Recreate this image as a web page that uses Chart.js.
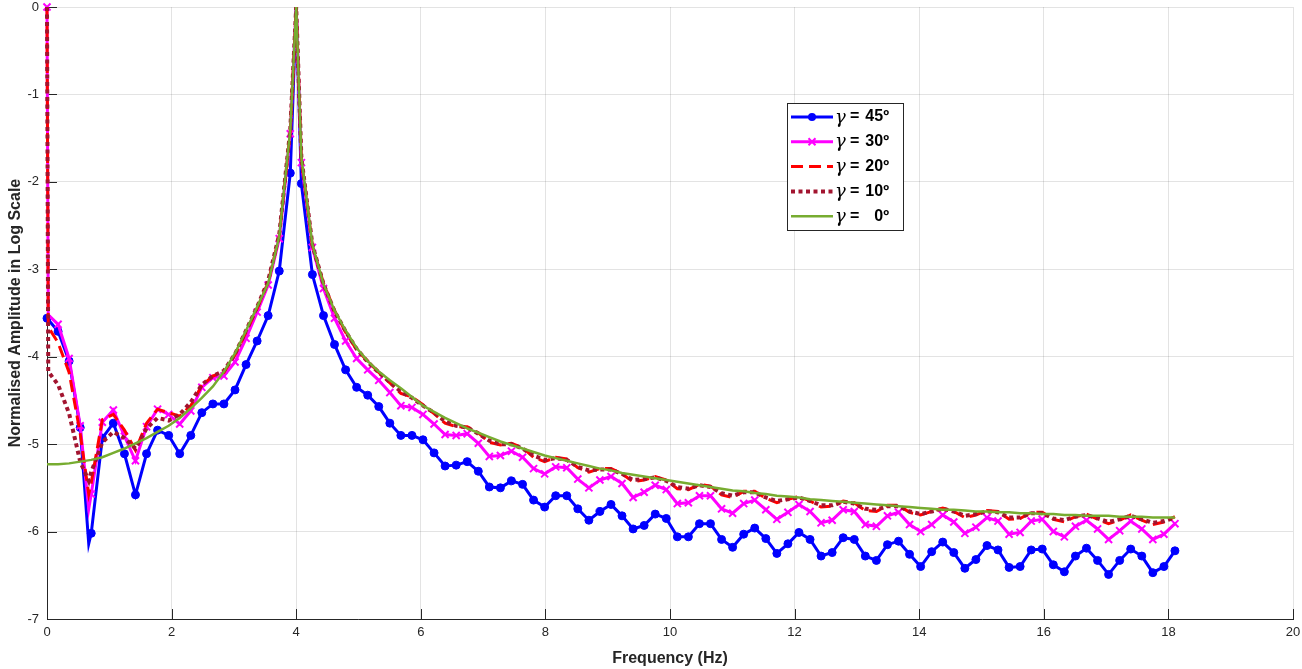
<!DOCTYPE html>
<html>
<head>
<meta charset="utf-8">
<title>Normalised Amplitude vs Frequency</title>
<script src="https://cdn.jsdelivr.net/npm/chart.js@4/dist/chart.umd.min.js"></script>
<style>
  html, body { margin: 0; padding: 0; background: #fff; }
  canvas { display: block; }
</style>
</head>
<body>
<canvas id="chart" width="1302" height="669"></canvas>
<script>
// --- data ---
// frequency grid (Hz) where the markers sit
const freq = [
  0, 0.178, 0.355, 0.533, 0.710, 0.888, 1.065, 1.243, 1.420, 1.598,
  1.775, 1.953, 2.130, 2.308, 2.485, 2.663, 2.840, 3.018, 3.195, 3.373,
  3.550, 3.728, 3.905, 4.083, 4.260, 4.438, 4.615, 4.793, 4.970, 5.148,
  5.325, 5.503, 5.680, 5.858, 6.035, 6.213, 6.390, 6.568, 6.745, 6.923,
  7.100, 7.278, 7.455, 7.633, 7.810, 7.988, 8.165, 8.343, 8.520, 8.698,
  8.875, 9.053, 9.230, 9.408, 9.585, 9.763, 9.940, 10.118, 10.295, 10.473,
  10.650, 10.828, 11.005, 11.183, 11.360, 11.538, 11.715, 11.893, 12.070, 12.248,
  12.425, 12.603, 12.780, 12.958, 13.135, 13.313, 13.490, 13.668, 13.845, 14.023,
  14.200, 14.378, 14.555, 14.733, 14.910, 15.088, 15.265, 15.443, 15.620, 15.798,
  15.975, 16.153, 16.330, 16.508, 16.685, 16.863, 17.040, 17.218, 17.395, 17.573,
  17.750, 17.928, 18.105
];
// extra line points between markers (steep drop at 0, dip, resonance peak)
const extraFreq = [0.02, 0.67, 4.0];

const gammaLabels = ['45', '30', '20', '10', '0'];

const amp45 = [
  -3.56, -3.71, -4.05, -4.81, -6.02, -4.93, -4.76, -5.11, -5.58, -5.11,
  -4.84, -4.90, -5.11, -4.90, -4.64, -4.54, -4.54, -4.38, -4.09, -3.82,
  -3.53, -3.02, -1.90, -2.02, -3.06, -3.53, -3.86, -4.15, -4.35, -4.44,
  -4.57, -4.76, -4.90, -4.90, -4.95, -5.10, -5.25, -5.24, -5.20, -5.31,
  -5.49, -5.50, -5.42, -5.46, -5.64, -5.72, -5.59, -5.59, -5.74, -5.87,
  -5.77, -5.69, -5.82, -5.97, -5.93, -5.80, -5.85, -6.06, -6.06, -5.91,
  -5.91, -6.09, -6.18, -6.03, -5.96, -6.08, -6.25, -6.14, -6.01, -6.09,
  -6.28, -6.24, -6.07, -6.09, -6.28, -6.33, -6.15, -6.11, -6.26, -6.40,
  -6.23, -6.12, -6.24, -6.42, -6.32, -6.16, -6.21, -6.41, -6.40, -6.21,
  -6.20, -6.38, -6.46, -6.28, -6.19, -6.33, -6.49, -6.33, -6.20, -6.28,
  -6.47, -6.40, -6.22
];
const amp45Extra = [null, -6.14, 0];

const amp30 = [
  0, -3.63, -4.02, -4.79, -5.57, -4.75, -4.61, -4.91, -5.19, -4.80,
  -4.60, -4.66, -4.77, -4.62, -4.35, -4.24, -4.22, -4.06, -3.79, -3.49,
  -3.18, -2.65, -1.45, -1.78, -2.75, -3.22, -3.56, -3.82, -4.02, -4.15,
  -4.27, -4.41, -4.56, -4.58, -4.66, -4.77, -4.89, -4.90, -4.88, -4.99,
  -5.14, -5.13, -5.08, -5.15, -5.28, -5.34, -5.26, -5.27, -5.40, -5.50,
  -5.41, -5.37, -5.45, -5.61, -5.55, -5.47, -5.52, -5.68, -5.67, -5.59,
  -5.59, -5.74, -5.79, -5.68, -5.64, -5.75, -5.86, -5.78, -5.69, -5.77,
  -5.90, -5.87, -5.75, -5.77, -5.92, -5.94, -5.82, -5.78, -5.92, -6.00,
  -5.92, -5.81, -5.89, -6.02, -5.95, -5.84, -5.88, -6.03, -6.01, -5.88,
  -5.86, -6.00, -6.06, -5.94, -5.87, -5.97, -6.09, -5.99, -5.88, -5.97,
  -6.09, -6.03, -5.91
];
const amp30Extra = [-3.52, -5.74, 0];

const amp20 = [
  0, -3.84, -4.18, -4.88, -5.44, -4.72, -4.66, -4.84, -5.07, -4.76,
  -4.60, -4.64, -4.68, -4.56, -4.33, -4.22, -4.18, -3.98, -3.72, -3.45,
  -3.15, -2.62, -1.42, -1.74, -2.73, -3.16, -3.47, -3.72, -3.92, -4.05,
  -4.18, -4.30, -4.42, -4.46, -4.55, -4.65, -4.76, -4.80, -4.80, -4.87,
  -4.98, -5.01, -4.99, -5.04, -5.15, -5.20, -5.15, -5.17, -5.27, -5.32,
  -5.28, -5.28, -5.34, -5.43, -5.41, -5.37, -5.41, -5.51, -5.52, -5.46,
  -5.48, -5.58, -5.61, -5.54, -5.54, -5.62, -5.67, -5.63, -5.60, -5.65,
  -5.72, -5.71, -5.65, -5.67, -5.76, -5.77, -5.70, -5.70, -5.78, -5.81,
  -5.77, -5.73, -5.77, -5.84, -5.81, -5.76, -5.77, -5.86, -5.85, -5.78,
  -5.78, -5.86, -5.89, -5.83, -5.80, -5.86, -5.91, -5.87, -5.81, -5.87,
  -5.92, -5.89, -5.83
];
const amp20Extra = [-3.66, -5.57, 0];

const amp10 = [
  0, -4.32, -4.65, -5.20, -5.32, -4.98, -4.86, -4.93, -5.05, -4.82,
  -4.70, -4.73, -4.66, -4.52, -4.32, -4.22, -4.16, -3.97, -3.70, -3.43,
  -3.13, -2.60, -1.40, -1.72, -2.72, -3.17, -3.48, -3.71, -3.91, -4.06,
  -4.18, -4.29, -4.40, -4.47, -4.56, -4.64, -4.74, -4.79, -4.81, -4.88,
  -4.96, -5.00, -5.00, -5.05, -5.13, -5.18, -5.16, -5.18, -5.26, -5.30,
  -5.29, -5.29, -5.34, -5.41, -5.40, -5.38, -5.42, -5.49, -5.51, -5.47,
  -5.49, -5.56, -5.59, -5.55, -5.55, -5.61, -5.65, -5.63, -5.61, -5.65,
  -5.70, -5.70, -5.66, -5.68, -5.74, -5.75, -5.71, -5.71, -5.77, -5.80,
  -5.77, -5.74, -5.77, -5.82, -5.80, -5.77, -5.78, -5.84, -5.84, -5.79,
  -5.79, -5.85, -5.87, -5.83, -5.81, -5.85, -5.89, -5.86, -5.82, -5.86,
  -5.90, -5.88, -5.84
];
const amp10Extra = [-4.17, -5.42, 0];

const amp0 = [
  -5.23, -5.23, -5.22, -5.20, -5.18, -5.15, -5.10, -5.05, -4.99, -4.93,
  -4.86, -4.79, -4.70, -4.59, -4.47, -4.34, -4.17, -3.96, -3.70, -3.43,
  -3.16, -2.62, -1.40, -1.72, -2.72, -3.17, -3.47, -3.70, -3.90, -4.05,
  -4.17, -4.27, -4.36, -4.46, -4.56, -4.63, -4.70, -4.76, -4.82, -4.87,
  -4.92, -4.97, -5.01, -5.05, -5.09, -5.13, -5.16, -5.19, -5.22, -5.25,
  -5.28, -5.30, -5.33, -5.35, -5.37, -5.39, -5.41, -5.43, -5.45, -5.47,
  -5.49, -5.51, -5.53, -5.54, -5.56, -5.57, -5.59, -5.60, -5.61, -5.63,
  -5.64, -5.65, -5.66, -5.67, -5.68, -5.69, -5.70, -5.71, -5.72, -5.73,
  -5.74, -5.75, -5.75, -5.76, -5.77, -5.77, -5.78, -5.78, -5.79, -5.79,
  -5.80, -5.80, -5.81, -5.81, -5.82, -5.82, -5.82, -5.83, -5.83, -5.83,
  -5.84, -5.84, -5.84
];
const amp0Extra = [null, null, 0];

const xTicks = [0, 2, 4, 6, 8, 10, 12, 14, 16, 18, 20];
const yTicks = [-7, -6, -5, -4, -3, -2, -1, 0];

// merge marker points and the extra in-between points
function buildPoints(main, extra) {
  const pts = freq.map((f, i) => ({ x: f, y: main[i], m: true }));
  extraFreq.forEach((f, i) => {
    if (extra[i] !== null) pts.push({ x: f, y: extra[i], m: false });
  });
  pts.sort((a, b) => a.x - b.x);
  return pts;
}

const AXIS_COLOR = '#262626';
const FONT = '"Liberation Sans", Arial, sans-serif';
Chart.defaults.font.family = FONT;
Chart.defaults.color = AXIS_COLOR;

// inward tick marks, MATLAB style
const tickMarks = {
  id: 'tickMarks',
  beforeDatasetsDraw(chart) {
    const { ctx, chartArea, scales } = chart;
    ctx.save();
    ctx.strokeStyle = AXIS_COLOR;
    ctx.lineWidth = 1;
    ctx.beginPath();
    xTicks.forEach(v => {
      const px = Math.round(scales.x.getPixelForValue(v)) + 0.5;
      ctx.moveTo(px, chartArea.bottom);
      ctx.lineTo(px, chartArea.bottom - 10);
    });
    yTicks.forEach(v => {
      const py = Math.round(scales.y.getPixelForValue(v)) + 0.5;
      ctx.moveTo(chartArea.left, py);
      ctx.lineTo(chartArea.left + 10, py);
    });
    ctx.stroke();
    ctx.restore();
  }
};

// boxed legend drawn on top of the curves
const boxLegend = {
  id: 'boxLegend',
  afterDatasetsDraw(chart) {
    const ctx = chart.ctx;
    const bx = 787, by = 103, bw = 116, bh = 127;
    ctx.save();
    ctx.fillStyle = '#fff';
    ctx.fillRect(bx, by, bw, bh);
    ctx.strokeStyle = AXIS_COLOR;
    ctx.lineWidth = 1;
    ctx.strokeRect(bx + 0.5, by + 0.5, bw, bh);

    chart.data.datasets.forEach((ds, i) => {
      const y = 117 + i * 24.8;
      ctx.strokeStyle = ds.borderColor;
      ctx.lineWidth = ds.borderWidth;
      ctx.setLineDash(ds.borderDash || []);
      ctx.beginPath();
      ctx.moveTo(791, y);
      ctx.lineTo(833, y);
      ctx.stroke();
      ctx.setLineDash([]);

      if (ds.pointStyle === 'circle') {
        ctx.fillStyle = ds.borderColor;
        ctx.beginPath();
        ctx.arc(812, y, 4, 0, Math.PI * 2);
        ctx.fill();
      } else if (ds.pointStyle === 'crossRot') {
        ctx.strokeStyle = ds.borderColor;
        ctx.lineWidth = 2;
        ctx.beginPath();
        ctx.moveTo(808.5, y - 3.5); ctx.lineTo(815.5, y + 3.5);
        ctx.moveTo(815.5, y - 3.5); ctx.lineTo(808.5, y + 3.5);
        ctx.stroke();
      }

      ctx.fillStyle = '#000';
      ctx.textBaseline = 'middle';
      ctx.textAlign = 'left';
      ctx.font = 'italic 18px "DejaVu Serif", "Liberation Serif", serif';
      ctx.fillText('\u03B3', 835, y + 1);
      ctx.font = 'bold 16px ' + FONT;
      ctx.fillText('=', 850, y);
      ctx.textAlign = 'right';
      ctx.fillText(gammaLabels[i] + '\u00BA', 889, y);
    });
    ctx.restore();
  }
};

const markerRadius = r => c => (c.raw && c.raw.m ? r : 0);

new Chart(document.getElementById('chart'), {
  type: 'line',
  data: {
    datasets: [
      {
        label: 'γ = 45º',
        data: buildPoints(amp45, amp45Extra),
        borderColor: '#0000FF',
        backgroundColor: '#0000FF',
        borderWidth: 3,
        pointStyle: 'circle',
        pointRadius: markerRadius(4),
        pointBorderWidth: 1,
        order: 5
      },
      {
        label: 'γ = 30º',
        data: buildPoints(amp30, amp30Extra),
        borderColor: '#FF00FF',
        backgroundColor: '#FF00FF',
        borderWidth: 3,
        pointStyle: 'crossRot',
        pointRadius: markerRadius(5),
        pointBorderWidth: 2,
        order: 4
      },
      {
        label: 'γ = 20º',
        data: buildPoints(amp20, amp20Extra),
        borderColor: '#FF0000',
        borderWidth: 3,
        borderDash: [12, 6],
        pointRadius: 0,
        order: 3
      },
      {
        label: 'γ = 10º',
        data: buildPoints(amp10, amp10Extra),
        borderColor: '#A2142F',
        borderWidth: 4,
        borderDash: [4, 3.5],
        pointRadius: 0,
        order: 2
      },
      {
        label: 'γ = 0º',
        data: buildPoints(amp0, amp0Extra),
        borderColor: '#77AC30',
        borderWidth: 2.5,
        pointRadius: 0,
        order: 1
      }
    ]
  },
  options: {
    responsive: false,
    animation: false,
    devicePixelRatio: 1,
    clip: false,
    layout: { padding: { top: 4, right: 9, left: 0, bottom: 0 } },
    elements: { line: { tension: 0 }, point: { hoverRadius: 0 } },
    plugins: { legend: { display: false }, tooltip: { enabled: false } },
    scales: {
      x: {
        type: 'linear',
        min: 0,
        max: 20,
        afterFit: s => { s.height = 50; s.paddingLeft = 0; s.paddingRight = 0; },
        afterBuildTicks: s => { s.ticks = xTicks.map(v => ({ value: v })); },
        ticks: { font: { size: 13 }, color: AXIS_COLOR, padding: 6, maxRotation: 0 },
        grid: { color: 'rgba(38,38,38,0.13)', drawTicks: false },
        border: { display: true, color: AXIS_COLOR, width: 1 },
        title: {
          display: true,
          text: 'Frequency (Hz)',
          font: { size: 16, weight: 'bold' },
          color: AXIS_COLOR,
          padding: { top: 0, bottom: 0.5 }
        }
      },
      y: {
        type: 'linear',
        min: -7,
        max: 0,
        afterFit: s => { s.width = 47; s.paddingTop = 0; s.paddingBottom = 0; },
        afterBuildTicks: s => { s.ticks = yTicks.map(v => ({ value: v })); },
        ticks: { font: { size: 13 }, color: AXIS_COLOR, padding: 8 },
        grid: { color: 'rgba(38,38,38,0.13)', drawTicks: false },
        border: { display: true, color: AXIS_COLOR, width: 1 },
        title: {
          display: true,
          text: 'Normalised Amplitude in Log Scale',
          font: { size: 16, weight: 'bold' },
          color: AXIS_COLOR,
          padding: { top: 6.2, bottom: 0 }
        }
      }
    }
  },
  plugins: [tickMarks, boxLegend]
});
</script>
</body>
</html>
